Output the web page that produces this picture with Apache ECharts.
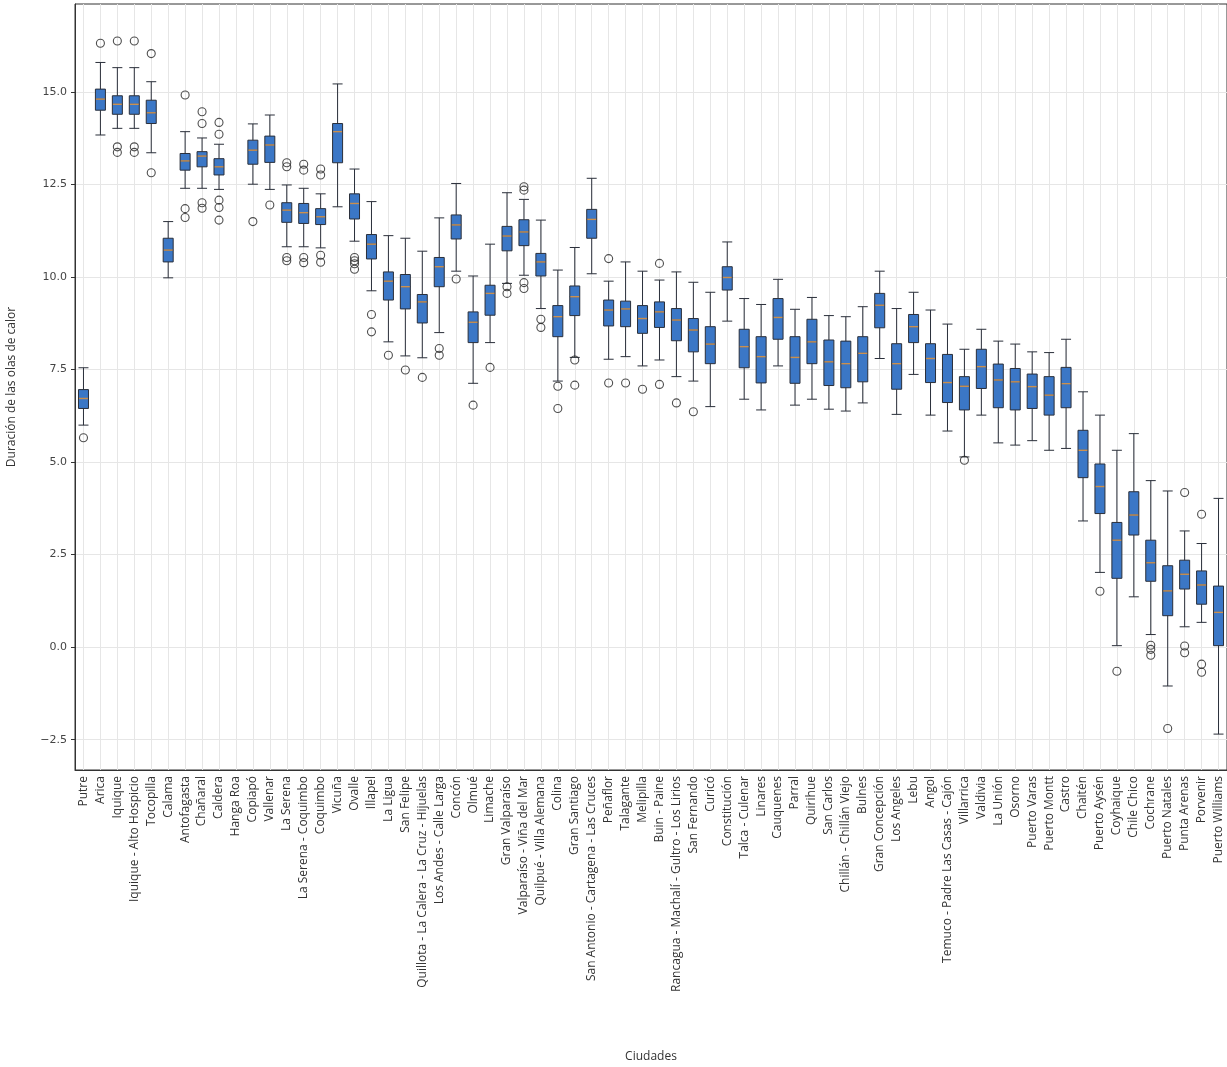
<!DOCTYPE html>
<html><head><meta charset="utf-8">
<script src="https://cdn.jsdelivr.net/npm/echarts@6/dist/echarts.min.js"></script>
<style>html,body{margin:0;padding:0;background:#fff}#c{width:1227px;height:1067px}</style>
</head><body><div id="c"></div>
<script>
const cities = ["Putre","Arica","Iquique","Iquique - Alto Hospicio","Tocopilla","Calama","Antofagasta","Chañaral","Caldera","Hanga Roa","Copiapó","Vallenar","La Serena","La Serena - Coquimbo","Coquimbo","Vicuña","Ovalle","Illapel","La Ligua","San Felipe","Quillota - La Calera - La Cruz - Hijuelas","Los Andes - Calle Larga","Concón","Olmué","Limache","Gran Valparaíso","Valparaíso - Viña del Mar","Quilpué - Villa Alemana","Colina","Gran Santiago","San Antonio - Cartagena - Las Cruces","Peñaflor","Talagante","Melipilla","Buin - Paine","Rancagua - Machalí - Gultro - Los Lirios","San Fernando","Curicó","Constitución","Talca - Culenar","Linares","Cauquenes","Parral","Quirihue","San Carlos","Chillán - Chillán Viejo","Bulnes","Gran Concepción","Los Angeles","Lebu","Angol","Temuco - Padre Las Casas - Cajón","Villarrica","Valdivia","La Unión","Osorno","Puerto Varas","Puerto Montt","Castro","Chaitén","Puerto Aysén","Coyhaique","Chile Chico","Cochrane","Puerto Natales","Punta Arenas","Porvenir","Puerto Williams"];

const whiskerLow = [6.0,13.84,14.02,14.02,13.36,9.98,12.4,12.4,12.37,null,12.51,12.37,10.82,10.82,10.79,11.9,10.97,9.63,8.25,7.87,7.82,8.5,10.16,7.13,8.23,9.83,10.05,9.15,7.19,7.83,10.09,7.78,7.85,7.6,7.76,7.31,7.19,6.5,8.81,6.7,6.41,7.6,6.54,6.7,6.43,6.38,6.6,7.8,6.29,7.37,6.27,5.84,5.14,6.27,5.52,5.46,5.58,5.32,5.37,3.41,2.02,0.04,1.36,0.34,-1.05,0.55,0.67,-2.35];
const q1 = [6.45,14.51,14.4,14.4,14.15,10.41,12.89,12.98,12.76,null,13.05,13.1,11.48,11.45,11.42,13.09,11.57,10.49,9.38,9.14,8.76,9.74,11.03,8.23,8.97,10.71,10.85,10.03,8.39,8.96,11.05,8.68,8.66,8.48,8.64,8.28,7.98,7.66,9.65,7.55,7.14,8.32,7.13,7.66,7.07,7.01,7.17,8.63,6.97,8.23,7.15,6.61,6.41,6.99,6.47,6.41,6.45,6.27,6.47,4.58,3.61,1.86,3.03,1.78,0.85,1.57,1.16,0.04];
const median = [6.72,14.81,14.67,14.67,14.44,10.73,13.14,13.27,12.98,null,13.43,13.57,11.81,11.74,11.63,13.93,11.99,10.89,9.89,9.74,9.33,10.28,11.41,8.78,9.56,11.11,11.22,10.41,8.93,9.47,11.56,9.11,9.14,8.88,9.06,8.84,8.57,8.19,9.99,8.12,7.85,8.91,7.83,8.25,7.71,7.66,7.94,9.24,7.66,8.66,7.8,7.15,7.05,7.58,7.22,7.17,7.04,6.81,7.12,5.32,4.34,2.89,3.57,2.28,1.52,1.97,1.68,0.94];
const q3 = [6.96,15.08,14.9,14.9,14.78,11.05,13.34,13.39,13.2,null,13.7,13.81,12.01,11.99,11.85,14.15,12.25,11.15,10.14,10.07,9.53,10.53,11.68,9.06,9.78,11.37,11.55,10.64,9.23,9.76,11.83,9.38,9.35,9.23,9.33,9.15,8.88,8.66,10.28,8.59,8.39,9.42,8.39,8.86,8.3,8.27,8.39,9.56,8.2,8.99,8.2,7.91,7.31,8.05,7.65,7.53,7.38,7.31,7.56,5.86,4.95,3.37,4.2,2.89,2.2,2.35,2.06,1.65];
const whiskerHigh = [7.55,15.8,15.66,15.66,15.28,11.5,13.93,13.76,13.59,null,14.14,14.38,12.49,12.4,12.25,15.22,12.92,12.04,11.12,11.05,10.7,11.6,12.53,10.03,10.89,12.28,12.1,11.54,10.19,10.8,12.67,9.89,10.41,10.16,9.92,10.14,9.86,9.59,10.95,9.42,9.26,9.94,9.13,9.45,8.96,8.93,9.2,10.16,9.15,9.59,9.11,8.73,8.05,8.59,8.27,8.19,7.98,7.96,8.32,6.9,6.27,5.32,5.77,4.5,4.22,3.14,2.8,4.02];
const outliers = [
  [5.66],[16.32],[16.38,13.52,13.37],[16.38,13.52,13.37],[16.04,12.82],[],[14.92,11.85,11.61],[14.47,14.15,12.01,11.86],[14.18,13.86,12.08,11.88,11.54],[],
  [11.5],[11.95],[13.09,12.98,10.53,10.44],[13.05,12.89,10.53,10.39],[12.92,12.76,10.59,10.4],[],[10.53,10.44,10.36,10.21],[8.99,8.52],[7.89],[7.49],
  [7.29],[8.07,7.89],[9.95],[6.54],[7.56],[9.74,9.56],[12.44,12.35,9.85,9.69],[8.86,8.64],[7.05,6.45],[7.76,7.08],
  [],[10.5,7.14],[7.14],[6.97],[10.37,7.1],[6.6],[6.36],[],[],[],
  [],[],[],[],[],[],[],[],[],[],
  [],[],[5.05],[],[],[],[],[],[],[],
  [1.51],[-0.65],[],[0.05,-0.06,-0.22],[-2.2],[4.18,0.03,-0.15],[3.59,-0.46,-0.68],[]
];
const yTicks = [-2.5, 0, 2.5, 5, 7.5, 10, 12.5, 15];

const boxData = cities.map((c, i) => whiskerLow[i] == null ? ['-','-','-','-','-'] :
  [whiskerLow[i], q1[i], median[i], q3[i], whiskerHigh[i]]);
const medianData = cities.map((c, i) => [c, median[i] == null ? '-' : median[i]]);
const outlierData = [];
outliers.forEach((arr, i) => arr.forEach(v => outlierData.push([cities[i], v])));
const centerIdx = cities.map((c, i) => i);

const chart = echarts.init(document.getElementById('c'));
chart.setOption({
  animation: false,
  backgroundColor: '#fff',
  grid: { left: 75, right: 0, top: 4, bottom: 297, show: true, borderColor: '#333', borderWidth: 1, outerBoundsMode: 'none' },
  xAxis: [{
    type: 'category', data: cities, boundaryGap: true,
    name: 'Ciudades', nameLocation: 'middle', nameGap: 281,
    nameTextStyle: { fontFamily: 'Open Sans', fontSize: 12, color: '#333' },
    axisLine: { onZero: false, lineStyle: { color: '#333' } },
    axisTick: { alignWithLabel: true, length: 4, lineStyle: { color: '#333' } },
    axisLabel: { rotate: 90, interval: 0, fontFamily: 'Open Sans', fontSize: 12, color: '#333', margin: 6 },
    splitLine: { show: false }
  }, {
    type: 'value', min: -0.5, max: cities.length - 0.5, position: 'top',
    axisLine: { show: false, onZero: false }, axisLabel: { show: false },
    axisTick: { show: false, customValues: centerIdx },
    splitLine: { show: true, lineStyle: { color: '#e6e6e6', width: 1 } }
  }],
  yAxis: {
    type: 'value', min: -3.32, max: 17.38,
    name: 'Duración de las olas de calor', nameLocation: 'middle', nameGap: 57, nameRotate: 90,
    nameTextStyle: { fontFamily: 'Open Sans', fontSize: 12, color: '#333' },
    axisLine: { show: true, onZero: false, lineStyle: { color: '#333' } },
    axisTick: { show: true, length: 4, customValues: yTicks, lineStyle: { color: '#333' } },
    axisLabel: { customValues: yTicks, fontFamily: 'DejaVu Sans', fontSize: 11, color: '#444', margin: 8,
      formatter: v => (v < 0 ? '\u2212' + Math.abs(v).toFixed(1) : v.toFixed(1)) },
    splitLine: { show: true, lineStyle: { color: '#e6e6e6', width: 1 } }
  },
  series: [{
    type: 'boxplot', data: boxData, boxWidth: [10, 10],
    itemStyle: { color: '#3b77c6', borderColor: '#2a2f3a', borderWidth: 1 }
  }, {
    type: 'scatter', data: medianData, symbol: 'rect', symbolSize: [9, 1.4],
    itemStyle: { color: '#f2a650' }, z: 5
  }, {
    type: 'scatter', data: outlierData, symbol: 'circle', symbolSize: 8,
    itemStyle: { color: 'rgba(0,0,0,0)', borderColor: '#222', borderWidth: 1.1 }, z: 4
  }]
});
</script></body></html>
